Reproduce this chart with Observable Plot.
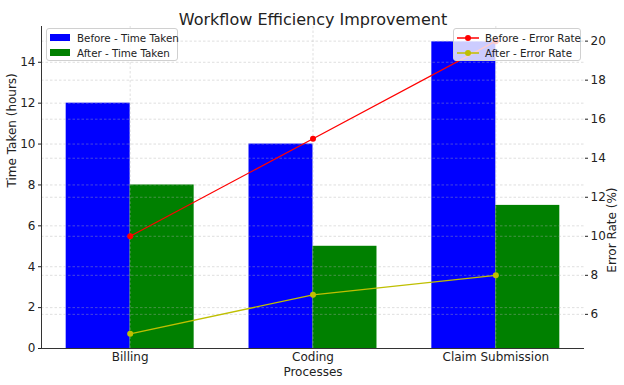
<!DOCTYPE html>
<html>
<head>
<meta charset="utf-8">
<script src="https://cdn.jsdelivr.net/npm/d3@7"></script>
<script src="https://cdn.jsdelivr.net/npm/@observablehq/plot@0.6"></script>
<style>
  body { margin: 0; background: #fff; font-family: "DejaVu Sans", sans-serif; }
  #wrap { position: relative; width: 624px; height: 385px; }
  .legend { position: absolute; background: rgba(255,255,255,0.8); border: 1px solid #d0d0d0; border-radius: 3px; font-size: 10.3px; color: #222; box-sizing: border-box; padding: 1px 3px; white-space: nowrap; }
  .legend .row { display: flex; align-items: center; height: 15px; }
  .legend .sw { width: 20px; height: 7px; margin-right: 7px; flex: none; }
  .legend svg { margin-right: 6px; flex: none; }
</style>
</head>
<body>
<div id="wrap"></div>
<script>
const categories = ["Billing", "Coding", "Claim Submission"];
const timeBefore = [12, 10, 15];
const timeAfter = [8, 5, 7];
const errorBefore = [10, 15, 20];
const errorAfter = [5, 7, 8];
const timeTicks = [0, 2, 4, 6, 8, 10, 12, 14];
const errorTicks = [6, 8, 10, 12, 14, 16, 18, 20];
const barWidth = 0.35;

const xDomain = [-0.485, 2.485];
const timeDomain = [0, 15.75];
const errorDomain = [4.25, 20.75];
// map error-rate values onto the shared y scale (twin axis)
const e2t = d3.scaleLinear().domain(errorDomain).range(timeDomain);

const bars = categories.flatMap((c, i) => [
  {i, x1: i - barWidth, x2: i, v: timeBefore[i], s: "before"},
  {i, x1: i, x2: i + barWidth, v: timeAfter[i], s: "after"}
]);
const errB = categories.map((c, i) => ({i, v: errorBefore[i]}));
const errA = categories.map((c, i) => ({i, v: errorAfter[i]}));

const grid = {stroke: "#b0b0b0", strokeOpacity: 0.5, strokeDasharray: "2.5,2", strokeWidth: 0.8};

const chart = Plot.plot({
  width: 624,
  height: 385,
  marginLeft: 41,
  marginRight: 40,
  marginTop: 26,
  marginBottom: 37,
  style: {fontFamily: "DejaVu Sans, sans-serif", fontSize: "12px", color: "#222", background: "white"},
  x: {type: "linear", domain: xDomain},
  y: {domain: timeDomain},
  marks: [
    Plot.rect(bars, {x1: "x1", x2: "x2", y1: 0, y2: "v", fill: d => d.s === "before" ? "blue" : "green"}),
    Plot.ruleY(timeTicks, {...grid}),
    Plot.ruleY(errorTicks.map(e2t), {...grid}),
    Plot.ruleX([0, 1, 2], {...grid}),
    Plot.line(errB, {x: "i", y: d => e2t(d.v), stroke: "red", strokeWidth: 1.3}),
    Plot.dot(errB, {x: "i", y: d => e2t(d.v), fill: "red", r: 3}),
    Plot.line(errA, {x: "i", y: d => e2t(d.v), stroke: "#bfbf00", strokeWidth: 1.3}),
    Plot.dot(errA, {x: "i", y: d => e2t(d.v), fill: "#bfbf00", r: 3}),
    Plot.ruleY([0], {stroke: "#333", strokeWidth: 1}),
    Plot.ruleX([xDomain[0]], {stroke: "#333", strokeWidth: 1}),
    Plot.axisY(timeTicks, {anchor: "left", tickSize: 3, tickPadding: 3, fontSize: 12, label: null}),
    Plot.axisY(errorTicks.map(e2t), {anchor: "right", tickSize: 3, tickPadding: 3, fontSize: 12,
      tickFormat: d => Math.round(e2t.invert(d)), label: null}),
    Plot.axisX([0, 1, 2], {anchor: "bottom", tickSize: 0, tickPadding: 4, fontSize: 12,
      tickFormat: i => categories[i], label: null}),
    Plot.text(["Time Taken (hours)"], {frameAnchor: "left", rotate: -90, dx: -29, fontSize: 12, fill: "#222"}),
    Plot.text(["Error Rate (%)"], {frameAnchor: "right", rotate: -90, dx: 28, fontSize: 12, fill: "#222"}),
    Plot.text(["Processes"], {frameAnchor: "bottom", dy: 27, fontSize: 12, fill: "#222"}),
    Plot.text(["Workflow Efficiency Improvement"], {frameAnchor: "top", dy: -13, fontSize: 16, fill: "#222"})
  ]
});
const wrap = document.getElementById("wrap");
wrap.appendChild(chart);

function patchLegend(left, top, w, items) {
  const d = document.createElement("div");
  d.className = "legend";
  Object.assign(d.style, {left: left + "px", top: top + "px", width: w + "px", height: "33px"});
  for (const [label, color] of items) {
    const r = document.createElement("div");
    r.className = "row";
    r.innerHTML = `<div class="sw" style="background:${color}"></div><span>${label}</span>`;
    d.appendChild(r);
  }
  wrap.appendChild(d);
}
function lineLegend(left, top, w, items) {
  const d = document.createElement("div");
  d.className = "legend";
  Object.assign(d.style, {left: left + "px", top: top + "px", width: w + "px", height: "33px"});
  for (const [label, color] of items) {
    const r = document.createElement("div");
    r.className = "row";
    r.innerHTML = `<svg width="22" height="8"><line x1="0" y1="4" x2="22" y2="4" stroke="${color}" stroke-width="1.5"/><circle cx="11" cy="4" r="3" fill="${color}"/></svg><span>${label}</span>`;
    d.appendChild(r);
  }
  wrap.appendChild(d);
}
patchLegend(46, 28, 132, [["Before - Time Taken", "blue"], ["After - Time Taken", "green"]]);
lineLegend(453, 28, 128, [["Before - Error Rate", "red"], ["After - Error Rate", "#bfbf00"]]);
</script>
</body>
</html>
